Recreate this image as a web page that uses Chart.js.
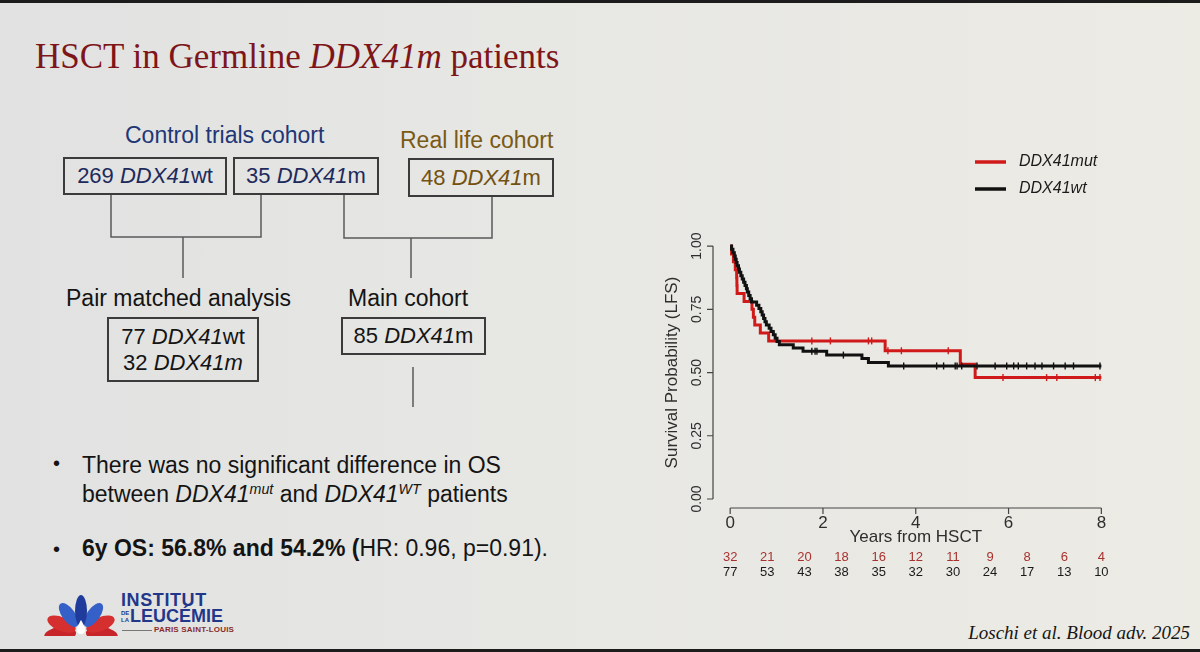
<!DOCTYPE html>
<html>
<head>
<meta charset="utf-8">
<script src="https://cdn.jsdelivr.net/npm/chart.js@4.4.1/dist/chart.umd.min.js"></script>
<style>
  html, body { margin: 0; padding: 0; }
  body { width: 1200px; height: 652px; overflow: hidden; position: relative;
    background: linear-gradient(90deg, #e1e2e1 0%, #e7e7e4 45%, #ecebe4 100%);
    font-family: "Liberation Sans", Arial, sans-serif; }
  .frameTop { position: absolute; left: 0; top: 0; width: 1200px; height: 3px; background: #1c1c1c; }
  .frameBot { position: absolute; left: 0; top: 649px; width: 1200px; height: 3px; background: #1c1c1c; }
  .t { position: absolute; white-space: nowrap; line-height: 1; }
  .box { position: absolute; border: 2px solid #3b3b3b; box-sizing: border-box;
    display: flex; flex-direction: column; align-items: center; justify-content: center;
    font-size: 22px; line-height: 26px; }
  #title { left: 35px; top: 39px; font-family: "Liberation Serif", "Times New Roman", serif;
    font-size: 35px; color: #7e1619; }
  .navy { color: #1d2a5c; }
  .olive { color: #735211; }
  .blk { color: #141414; }
  sup { font-size: 0.62em; vertical-align: 0.55em; line-height: 0; }
  #cite { right: 10px; top: 623px; font-family: "Liberation Serif", "Times New Roman", serif;
    font-style: italic; font-size: 19px; color: #151515; }
  canvas#km { position: absolute; left: 650px; top: 130px; }
</style>
</head>
<body>
<div class="frameTop"></div>
<div class="frameBot"></div>

<div id="title" class="t">HSCT in Germline <i>DDX41m</i> patients</div>

<div class="t navy" style="left:125px; top:124px; font-size:23px; color:#1e3777;">Control trials cohort</div>
<div class="t olive" style="left:400px; top:129px; font-size:23px; color:#7a5a14;">Real life cohort</div>

<div class="box navy" style="left:63px; top:157px; width:164px; height:38px;"><span>269 <i>DDX41</i>wt</span></div>
<div class="box navy" style="left:233px; top:157px; width:146px; height:38px;"><span>35 <i>DDX41</i>m</span></div>
<div class="box olive" style="left:408px; top:158px; width:146px; height:39px;"><span>48 <i>DDX41</i>m</span></div>

<svg style="position:absolute; left:0; top:0;" width="600" height="420">
  <g stroke="#5a5a5a" stroke-width="1.5" fill="none">
    <polyline points="111,195 111,237 261,237 261,195"/>
    <line x1="183" y1="237" x2="183" y2="278"/>
    <polyline points="344,195 344,238 492,238 492,197"/>
    <line x1="411" y1="238" x2="411" y2="278"/>
    <line x1="413" y1="367" x2="413" y2="407"/>
  </g>
</svg>

<div class="t blk" style="left:66px; top:287px; font-size:23px;">Pair matched analysis</div>
<div class="t blk" style="left:348px; top:287px; font-size:23px;">Main cohort</div>

<div class="box blk" style="left:107px; top:317px; width:152px; height:65px;">
  <span>77 <i>DDX41</i>wt</span><span>32 <i>DDX41m</i></span>
</div>
<div class="box blk" style="left:341px; top:317px; width:145px; height:38px;"><span>85 <i>DDX41</i>m</span></div>

<div class="t blk" style="left:53px; top:453px; font-size:20px;">•</div>
<div class="t blk" style="left:82px; top:451px; font-size:23px; line-height:29px;">There was no significant difference in OS<br>between <i>DDX41<sup>mut</sup></i> and <i>DDX41<sup>WT</sup></i> patients</div>
<div class="t blk" style="left:53px; top:539px; font-size:20px;">•</div>
<div class="t blk" style="left:82px; top:537px; font-size:23px;"><b>6y OS: 56.8% and 54.2% (</b>HR: 0.96, p=0.91).</div>

<!-- logo -->
<svg style="position:absolute; left:44px; top:592px;" width="76" height="44">
  <g transform="translate(37,40)">
    <ellipse cx="0" cy="-21" rx="7.5" ry="16" fill="#c8252a" transform="rotate(-97)"/>
    <ellipse cx="0" cy="-21" rx="7.5" ry="16" fill="#c8252a" transform="rotate(97)"/>
    <ellipse cx="0" cy="-21" rx="7" ry="15" fill="#d62f30" transform="rotate(-68)"/>
    <ellipse cx="0" cy="-21" rx="7" ry="15" fill="#d62f30" transform="rotate(68)"/>
    <ellipse cx="0" cy="-21" rx="6.5" ry="14" fill="#3560c8" transform="rotate(-36)"/>
    <ellipse cx="0" cy="-21" rx="6.5" ry="14" fill="#3560c8" transform="rotate(36)"/>
    <ellipse cx="0" cy="-21" rx="6" ry="16" fill="#1f3c9c"/>
    <path d="M0,-12 C3,-7 4,-4 4,-2 A4,4 0 0 1 -4,-2 C-4,-4 -3,-7 0,-12 Z" fill="#ffffff"/>
  </g>
</svg>
<div class="t" style="left:121px; top:591px; font-size:18px; font-weight:bold; color:#22378a; letter-spacing:0.6px;">INSTITUT</div>
<div class="t" style="left:121px; top:610px; font-size:6px; font-weight:bold; color:#22378a; line-height:6.5px;">DE<br>LA</div>
<div class="t" style="left:130px; top:607px; font-size:18px; font-weight:bold; color:#22378a;">LEUCÉMIE</div>
<div style="position:absolute; left:122px; top:630px; width:30px; height:1px; background:#777;"></div>
<div class="t" style="left:154px; top:626px; font-size:8px; font-weight:bold; color:#8a2b2b; letter-spacing:0.2px;">PARIS SAINT-LOUIS</div>

<div id="cite" class="t">Loschi et al. Blood adv. 2025</div>

<canvas id="km" width="480" height="460"></canvas>

<script>
// DDX41mut (red) Kaplan-Meier steps: time in years, survival after each event
const mutTimes = [0, 0.03, 0.07, 0.11, 0.14, 0.145, 0.15, 0.30, 0.47, 0.50, 0.53, 0.65, 0.83, 3.34, 4.96, 5.28, 8.0];
const mutSurv  = [1, 0.969, 0.938, 0.906, 0.875, 0.844, 0.8125, 0.781, 0.75, 0.719, 0.688, 0.656, 0.625, 0.586, 0.533, 0.48, 0.48];
const mutCensored = [1.76, 2.16, 2.98, 3.05, 3.40, 3.69, 4.70, 5.88, 6.82, 7.04, 7.87, 7.97];

// DDX41wt (black)
const wtTimes = [0, 0.03, 0.06, 0.09, 0.11, 0.13, 0.15, 0.18, 0.20, 0.23, 0.26, 0.29, 0.32, 0.35, 0.37, 0.40,
  0.43, 0.46, 0.57, 0.62, 0.66, 0.69, 0.72, 0.75, 0.78, 0.84, 0.88, 0.93, 0.97, 1.01, 1.06, 1.36, 1.57,
  2.08, 2.84, 2.98, 3.41, 8.0];
const wtSurv = [1, 0.987, 0.974, 0.961, 0.948, 0.935, 0.922, 0.909, 0.896, 0.883, 0.870, 0.857, 0.844, 0.831, 0.818, 0.805,
  0.792, 0.779, 0.766, 0.753, 0.740, 0.727, 0.714, 0.701, 0.688, 0.675, 0.662, 0.649, 0.636, 0.623, 0.610, 0.597, 0.584,
  0.569, 0.555, 0.540, 0.526, 0.526];
const wtCensored = [1.76, 1.83, 1.87, 2.44, 3.74, 4.45, 4.60, 4.85, 4.89, 4.99, 5.32, 5.71, 5.96, 6.11, 6.21,
  6.39, 6.57, 6.72, 6.97, 7.22, 7.40, 7.97];

// numbers at risk
const riskTimes = [0, 0.8, 1.6, 2.4, 3.2, 4.0, 4.8, 5.6, 6.4, 7.2, 8.0];
const riskMut = [32, 21, 20, 18, 16, 12, 11, 9, 8, 6, 4];
const riskWt  = [77, 53, 43, 38, 35, 32, 30, 24, 17, 13, 10];

const xTicks = [0, 2, 4, 6, 8];
const yTicks = [0, 0.25, 0.5, 0.75, 1];

const RED = '#d01a1a';
const BLACK = '#111111';

function survAt(times, surv, t) {
  let s = surv[0];
  for (let i = 0; i < times.length; i++) if (times[i] <= t) s = surv[i];
  return s;
}

const rAxes = {
  id: 'rAxes',
  afterDraw(chart) {
    const { ctx, chartArea, scales: { x, y } } = chart;
    ctx.save();
    ctx.strokeStyle = '#444';
    ctx.lineWidth = 1.2;
    ctx.fillStyle = '#2e2e2e';

    // y axis (R style, detached)
    const yl = chartArea.left;
    ctx.beginPath();
    ctx.moveTo(yl, y.getPixelForValue(yTicks[0]));
    ctx.lineTo(yl, y.getPixelForValue(yTicks[yTicks.length - 1]));
    yTicks.forEach(v => {
      const py = y.getPixelForValue(v);
      ctx.moveTo(yl, py); ctx.lineTo(yl - 6, py);
    });
    // x axis
    const xb = chartArea.bottom;
    ctx.moveTo(x.getPixelForValue(xTicks[0]), xb);
    ctx.lineTo(x.getPixelForValue(xTicks[xTicks.length - 1]), xb);
    xTicks.forEach(v => {
      const px = x.getPixelForValue(v);
      ctx.moveTo(px, xb); ctx.lineTo(px, xb + 6);
    });
    ctx.stroke();

    ctx.textAlign = 'center';
    ctx.textBaseline = 'middle';
    ctx.font = '14px "Liberation Sans", Arial';
    yTicks.forEach(v => {
      ctx.save();
      ctx.translate(yl - 16, y.getPixelForValue(v));
      ctx.rotate(-Math.PI / 2);
      ctx.fillText(v.toFixed(2), 0, 0);
      ctx.restore();
    });
    ctx.font = '17px "Liberation Sans", Arial';
    ctx.save();
    ctx.translate(yl - 41, (y.getPixelForValue(0) + y.getPixelForValue(1)) / 2);
    ctx.rotate(-Math.PI / 2);
    ctx.fillText('Survival Probability (LFS)', 0, 0);
    ctx.restore();

    ctx.font = '17px "Liberation Sans", Arial';
    xTicks.forEach(v => ctx.fillText(String(v), x.getPixelForValue(v), xb + 15));
    ctx.fillText('Years from HSCT', x.getPixelForValue(4), xb + 29);

    // risk table
    ctx.font = '13px "Liberation Sans", Arial';
    riskTimes.forEach((t, i) => {
      const px = x.getPixelForValue(t);
      ctx.fillStyle = '#a8322f';
      ctx.fillText(String(riskMut[i]), px, xb + 49);
      ctx.fillStyle = '#1a1a1a';
      ctx.fillText(String(riskWt[i]), px, xb + 64);
    });

    // legend
    const items = [chart.data.datasets[0], chart.data.datasets[1]];
    ctx.textAlign = 'left';
    ctx.font = 'italic 16px "Liberation Sans", Arial';
    items.forEach((ds, i) => {
      const ly = 32 + i * 27;
      ctx.strokeStyle = ds.borderColor;
      ctx.lineWidth = 3.5;
      ctx.beginPath();
      ctx.moveTo(325, ly); ctx.lineTo(356, ly);
      ctx.stroke();
      ctx.fillStyle = '#1a1a1a';
      ctx.fillText(ds.label, 369, ly);
    });
    ctx.restore();
  }
};

new Chart(document.getElementById('km'), {
  type: 'line',
  data: {
    datasets: [
      {
        label: 'DDX41mut',
        data: mutTimes.map((t, i) => ({ x: t, y: mutSurv[i] })),
        borderColor: RED, borderWidth: 3, stepped: 'before',
        pointRadius: 0, fill: false, order: 3
      },
      {
        label: 'DDX41wt',
        data: wtTimes.map((t, i) => ({ x: t, y: wtSurv[i] })),
        borderColor: BLACK, borderWidth: 3, stepped: 'before',
        pointRadius: 0, fill: false, order: 1
      },
      {
        label: 'mut censored',
        data: mutCensored.map(t => ({ x: t, y: survAt(mutTimes, mutSurv, t) })),
        showLine: false, pointStyle: 'line', rotation: 90, pointRadius: 3.5,
        borderColor: RED, pointBorderWidth: 1.4, order: 2
      },
      {
        label: 'wt censored',
        data: wtCensored.map(t => ({ x: t, y: survAt(wtTimes, wtSurv, t) })),
        showLine: false, pointStyle: 'line', rotation: 90, pointRadius: 3.5,
        borderColor: BLACK, pointBorderWidth: 1.4, order: 0
      }
    ]
  },
  options: {
    responsive: false,
    animation: false,
    layout: { padding: { left: 63, right: 24, top: 111, bottom: 82 } },
    plugins: { legend: { display: false }, tooltip: { enabled: false } },
    scales: {
      x: { type: 'linear', min: -0.37, max: 8.1, display: false },
      y: { type: 'linear', min: -0.0356, max: 1.02, display: false }
    }
  },
  plugins: [rAxes]
});
</script>
</body>
</html>
